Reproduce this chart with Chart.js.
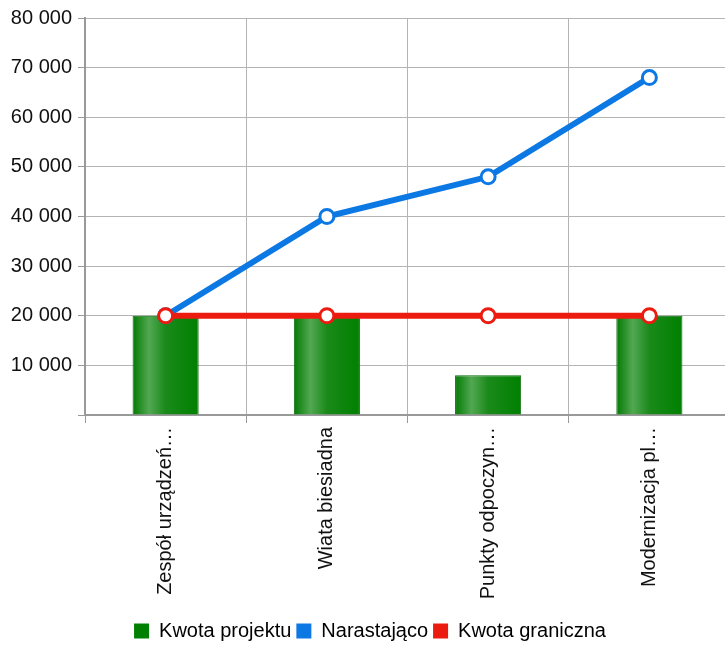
<!DOCTYPE html>
<html>
<head>
<meta charset="utf-8">
<script src="https://cdn.jsdelivr.net/npm/chart.js@4/dist/chart.umd.min.js"></script>
<style>
  body { margin: 0; overflow: hidden; background: #fff; }
</style>
</head>
<body>
<canvas id="chart" width="740" height="648"></canvas>
<script>
const categories = ['Zespół urządzeń…', 'Wiata biesiadna', 'Punkty odpoczyn…', 'Modernizacja pl…']
const kwotaProjektu = [20000, 20000, 8000, 20000]
const narastajaco = [20000, 40000, 48000, 68000]
const kwotaGraniczna = [20000, 20000, 20000, 20000]
const seriesNames = ['Kwota projektu', 'Narastająco', 'Kwota graniczna']
const yTicks = [0, 10000, 20000, 30000, 40000, 50000, 60000, 70000, 80000]

const GREEN = '#008000'
const BLUE = '#0b78e3'
const RED = '#ec1b10'
const font = { family: 'Liberation Sans, Arial, sans-serif', size: 20 }

// bar fill with a light vertical stripe, like the original
function barFill(ctx) {
  const chart = ctx.chart
  const x = chart.scales && chart.scales.x
  if (!chart.chartArea || !x || ctx.dataIndex === undefined) return GREEN
  const cx = x.getPixelForValue(ctx.dataIndex)
  const w = (x.width / categories.length) * 0.41
  const g = chart.ctx.createLinearGradient(cx - w / 2, 0, cx + w / 2, 0)
  g.addColorStop(0, '#037a03')
  g.addColorStop(0.25, '#52a852')
  g.addColorStop(0.5, '#1a8a1a')
  g.addColorStop(1, '#008000')
  return g
}

const legendColors = [GREEN, BLUE, RED]

new Chart(document.getElementById('chart'), {
  type: 'bar',
  data: {
    labels: categories,
    datasets: [
      {
        label: seriesNames[0],
        data: kwotaProjektu,
        backgroundColor: barFill,
        borderColor: '#0a6a0a',
        borderWidth: 1,
        barPercentage: 0.41,
        categoryPercentage: 1,
        order: 3,
      },
      {
        type: 'line',
        label: seriesNames[1],
        data: narastajaco,
        borderColor: BLUE,
        backgroundColor: BLUE,
        borderWidth: 6,
        pointRadius: 7,
        pointBorderWidth: 3,
        pointBackgroundColor: '#fff',
        pointBorderColor: BLUE,
        tension: 0,
        order: 2,
      },
      {
        type: 'line',
        label: seriesNames[2],
        data: kwotaGraniczna,
        borderColor: RED,
        backgroundColor: RED,
        borderWidth: 6,
        pointRadius: 7,
        pointBorderWidth: 3,
        pointBackgroundColor: '#fff',
        pointBorderColor: RED,
        tension: 0,
        order: 1,
      },
    ],
  },
  options: {
    responsive: false,
    animation: false,
    layout: { padding: { top: 7, left: 0, right: 0, bottom: -3 } },
    plugins: {
      tooltip: { enabled: false },
      legend: {
        position: 'bottom',
        labels: {
          font: font,
          color: '#111',
          boxWidth: 15,
          boxHeight: 15,
          padding: 5,
          generateLabels: (chart) =>
            chart.data.datasets.map((ds, i) => ({
              text: ds.label,
              fillStyle: legendColors[i],
              strokeStyle: legendColors[i],
              lineWidth: 0,
              datasetIndex: i,
              hidden: false,
            })),
        },
      },
    },
    scales: {
      x: {
        grid: { color: '#b4b4b4', lineWidth: 1, tickLength: 8, offset: true, tickColor: '#999' },
        border: { color: '#999', width: 2 },
        ticks: { font: font, color: '#111', maxRotation: 90, minRotation: 90, padding: 4, autoSkip: false },
        afterFit: (s) => { s.height = 201 },
      },
      y: {
        min: 0,
        max: 80000,
        afterBuildTicks: (s) => { s.ticks = yTicks.map((v) => ({ value: v })) },
        grid: { color: '#b4b4b4', lineWidth: 1, tickLength: 7, tickColor: '#999' },
        border: { color: '#999', width: 2 },
        ticks: {
          font: font,
          color: '#111',
          padding: 6,
          callback: (v) => (v === 0 ? '' : v.toLocaleString('pl-PL').replace(/\s/g, ' ')),
        },
        afterFit: (s) => { s.width = 85 },
      },
    },
  },
})
</script>
</body>
</html>
